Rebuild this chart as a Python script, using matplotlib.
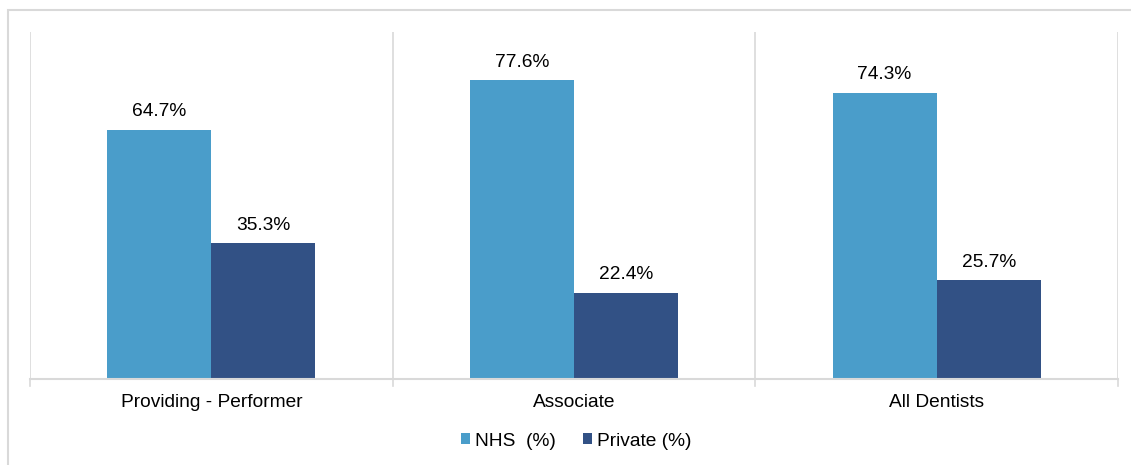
import numpy as np
import matplotlib.pyplot as plt
from matplotlib.patches import Rectangle

plt.rcParams['font.family'] = ['Liberation Sans', 'DejaVu Sans']

categories = ["Providing - Performer", "Associate", "All Dentists"]
nhs_pct = [64.7, 77.6, 74.3]
private_pct = [35.3, 22.4, 25.7]
series_names = ["NHS  (%)", "Private (%)"]

nhs_color = '#4A9DCA'
private_color = '#325185'
grid_color = '#D9D9D9'

fig = plt.figure(figsize=(11.31, 4.65), dpi=100)
# light frame round the whole chart area
fig.patches.append(Rectangle((8 / 1131, -0.1), 1.2, 1 - 10 / 465 + 0.1,
                             transform=fig.transFigure, fill=False,
                             edgecolor=grid_color, linewidth=1.5))

ax = fig.add_axes([30 / 1131, 1 - 379 / 465, 1088 / 1131, 347 / 465])

x = np.arange(len(categories))
width = 0.287
b1 = ax.bar(x - width / 2, nhs_pct, width, color=nhs_color, label=series_names[0])
b2 = ax.bar(x + width / 2, private_pct, width, color=private_color, label=series_names[1])

for bars, vals in ((b1, nhs_pct), (b2, private_pct)):
    for bar, v in zip(bars, vals):
        ax.text(bar.get_x() + bar.get_width() / 2, v + 2.4, f"{v:.1f}%",
                ha='center', va='bottom', fontsize=13.8, color='#000000')

ax.set_xlim(-0.5, len(categories) - 0.5)
ax.set_ylim(0, 90)

# category separators
for b in np.arange(-0.5, len(categories), 1.0):
    ax.axvline(b, color=grid_color, linewidth=1.2, zorder=0)

ax.set_xticks(x)
ax.set_xticklabels(categories, fontsize=13.8)
ax.tick_params(axis='x', length=0, pad=11)
ax.set_yticks([])
for b in np.arange(-0.5, len(categories), 1.0):
    ax.plot([b, b], [0, -1.8], color=grid_color, linewidth=1.2, clip_on=False)

for side in ('top', 'left', 'right'):
    ax.spines[side].set_visible(False)
ax.spines['bottom'].set_color(grid_color)
ax.spines['bottom'].set_linewidth(1.5)

fig.legend(handles=[b1, b2], loc='center', bbox_to_anchor=(576 / 1131, 1 - 441 / 465),
           ncol=2, frameon=False, fontsize=13.8, handlelength=0.5, handleheight=0.5,
           handletextpad=0.25, columnspacing=1.4)

fig.savefig('out.png', dpi=100)
